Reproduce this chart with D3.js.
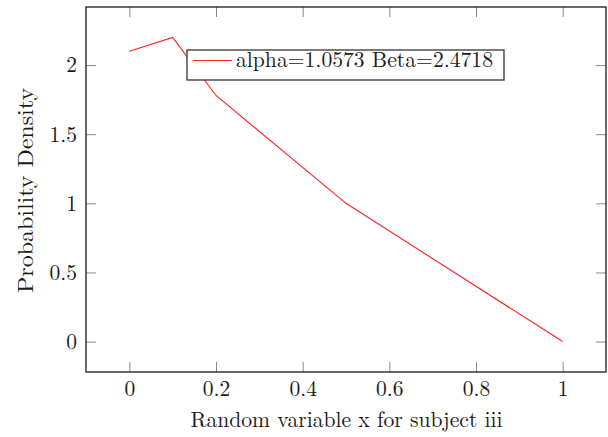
<!DOCTYPE html>
<html>
<head>
<meta charset="utf-8">
<script src="https://cdn.jsdelivr.net/npm/d3@7/dist/d3.min.js"></script>
<style>
  html, body { margin: 0; padding: 0; background: #fff; }
  svg { display: block; }
</style>
</head>
<body>
<svg id="chart" width="608" height="437"></svg>
<script>
// Data
const xValues = [0, 0.1, 0.2, 0.5, 1];
const yValues = [2.1, 2.2, 1.78, 1.0, 0];
const xTicks = [0, 0.2, 0.4, 0.6, 0.8, 1];
const yTicks = [0, 0.5, 1, 1.5, 2];
const seriesLabel = "alpha=1.0573 Beta=2.4718";
const xLabel = "Random variable x for subject iii";
const yLabel = "Probability Density";

(function () {
const FONT = "'Latin Modern Roman', 'Liberation Serif', serif";
const FS = "21.5px";
const INK = "#1a1a1a";
const svg = d3.select("#chart");
const pL = 86, pR = 606, pT = 7, pB = 372;
const tickLen = 10;

const x = d3.scaleLinear().domain([-0.1, 1.1]).range([pL, pR]);
const y = d3.scaleLinear().domain([-0.22, 2.42]).range([pB, pT]);

const fmt = d => String(d);

// bottom axis
const gx = svg.append("g").attr("transform", `translate(0,${pB})`)
  .call(d3.axisBottom(x).tickValues(xTicks).tickFormat(fmt).tickSizeInner(-tickLen).tickSizeOuter(0).tickPadding(8.5));
gx.select(".domain").remove();
gx.selectAll(".tick line").attr("stroke", "#8a8a8a").attr("stroke-width", 1);
gx.selectAll(".tick text").style("font-family", FONT).style("font-size", FS).attr("fill", INK);

// top axis ticks
const gxt = svg.append("g").attr("transform", `translate(0,${pT})`)
  .call(d3.axisTop(x).tickValues(xTicks).tickFormat("").tickSizeInner(-tickLen).tickSizeOuter(0));
gxt.select(".domain").remove();
gxt.selectAll(".tick line").attr("stroke", "#8a8a8a").attr("stroke-width", 1);

// left axis
const gy = svg.append("g").attr("transform", `translate(${pL},0)`)
  .call(d3.axisLeft(y).tickValues(yTicks).tickFormat(fmt).tickSizeInner(-tickLen).tickSizeOuter(0).tickPadding(9));
gy.select(".domain").remove();
gy.selectAll(".tick line").attr("stroke", "#8a8a8a").attr("stroke-width", 1);
gy.selectAll(".tick text").style("font-family", FONT).style("font-size", FS).attr("fill", INK);

// right axis ticks
const gyr = svg.append("g").attr("transform", `translate(${pR},0)`)
  .call(d3.axisRight(y).tickValues(yTicks).tickFormat("").tickSizeInner(-tickLen).tickSizeOuter(0));
gyr.select(".domain").remove();
gyr.selectAll(".tick line").attr("stroke", "#8a8a8a").attr("stroke-width", 1);

// line
const pts = xValues.map((v, i) => [v, yValues[i]]);
svg.append("path")
  .datum(pts)
  .attr("fill", "none")
  .attr("stroke", "#ff2020")
  .attr("stroke-width", 1.1)
  .attr("d", d3.line().x(d => x(d[0])).y(d => y(d[1])));

// frame
svg.append("rect")
  .attr("x", pL).attr("y", pT)
  .attr("width", pR - pL).attr("height", pB - pT)
  .attr("fill", "none").attr("stroke", INK).attr("stroke-width", 1.3);

// legend
const lg = svg.append("g");
lg.append("rect").attr("x", 187).attr("y", 50).attr("width", 317).attr("height", 30)
  .attr("fill", "#fff").attr("stroke", "#333").attr("stroke-width", 1.3);
lg.append("line").attr("x1", 193).attr("x2", 232).attr("y1", 60.5).attr("y2", 60.5)
  .attr("stroke", "#ff2020").attr("stroke-width", 1.1);
lg.append("text").attr("x", 236).attr("y", 66.5)
  .style("font-family", FONT).style("font-size", FS).attr("fill", INK)
  .attr("textLength", 257).attr("lengthAdjust", "spacingAndGlyphs")
  .text(seriesLabel);

// axis labels
svg.append("text").attr("x", 346.5).attr("y", 426.5).attr("text-anchor", "middle")
  .style("font-family", FONT).style("font-size", FS).attr("fill", INK)
  .attr("textLength", 312).attr("lengthAdjust", "spacingAndGlyphs")
  .text(xLabel);
svg.append("text").attr("transform", `translate(33,190.5) rotate(-90)`).attr("text-anchor", "middle")
  .style("font-family", FONT).style("font-size", FS).attr("fill", INK)
  .attr("textLength", 205).attr("lengthAdjust", "spacingAndGlyphs")
  .text(yLabel);
})();
</script>
</body>
</html>
